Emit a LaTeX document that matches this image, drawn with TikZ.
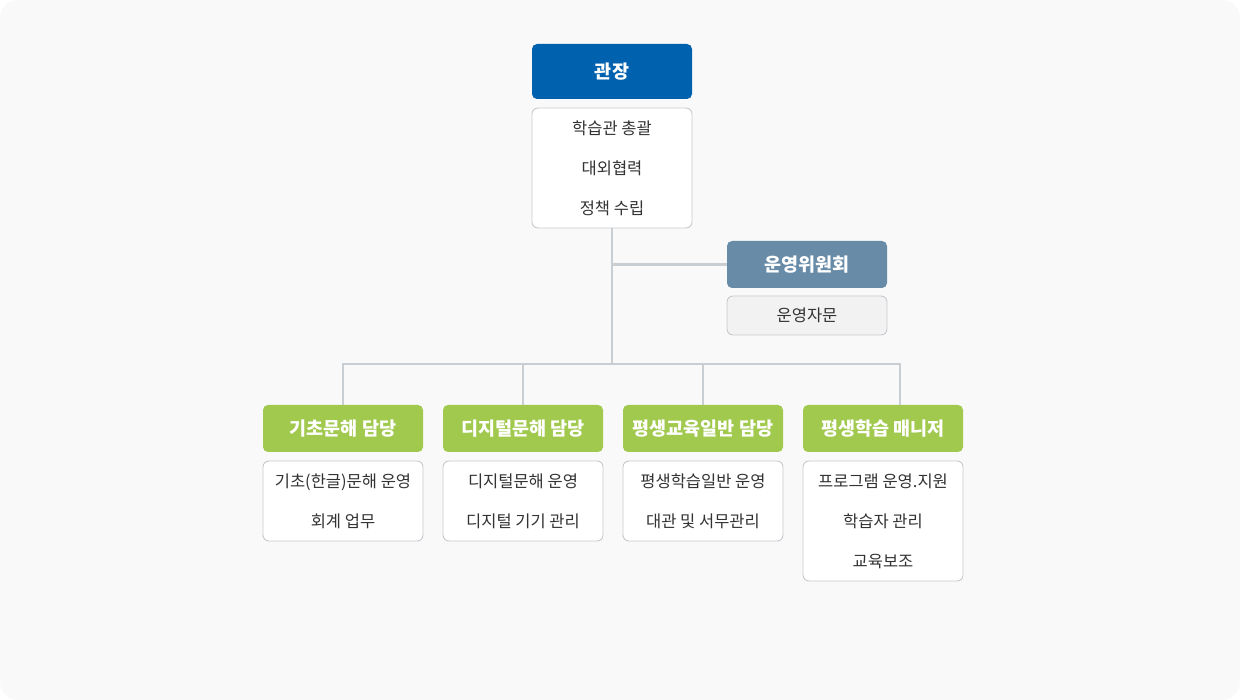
\documentclass[tikz,border=0pt]{standalone}
\usepackage{fontspec}
\setmainfont{Noto Sans CJK KR}
\usepackage{xcolor}
\usepackage{tikz}
\usetikzlibrary{positioning,calc}

\definecolor{bgcol}{HTML}{F9F9F9}
\definecolor{headblue}{HTML}{0061AF}
\definecolor{headgray}{HTML}{688BA8}
\definecolor{headgreen}{HTML}{A0C94E}
\definecolor{linecol}{HTML}{C9CED3}
\definecolor{boxline}{HTML}{C6CACF}
\definecolor{textcol}{HTML}{333333}

\begin{document}
\begin{tikzpicture}[x=1pt, y=-1pt,
    head/.style={rounded corners=5pt, minimum width=160pt, minimum height=47pt, inner sep=0pt, text=white, font=\fontsize{18.5}{22}\selectfont\bfseries},
    duty/.style={draw=boxline, line width=0.9pt, fill=white, rounded corners=6pt, minimum width=160pt, inner sep=0pt, align=center, text=textcol, font=\fontsize{16.5}{40}\selectfont},
    link/.style={draw=linecol, line width=2.5pt}]
    \useasboundingbox (0,0) rectangle (1240,700);
    \fill[bgcol, rounded corners=18pt] (0,0) rectangle (1240,700);

    \node[head, fill=headblue, minimum height=55pt] (chief) at (612,71.5) {관장};
    \node[duty, minimum height=120pt] (chiefDuty) at (612,168) {학습관 총괄\\대외협력\\정책 수립};

    \node[head, fill=headgray] (board) at (807,264.5) {운영위원회};
    \node[duty, fill=black!5, minimum height=39pt] (boardDuty) at (807,315.5) {운영자문};

    \node[head, fill=headgreen] (basic) at (343,428.5) {기초문해 담당};
    \node[head, fill=headgreen] (digital) at (523,428.5) {디지털문해 담당};
    \node[head, fill=headgreen] (general) at (703,428.5) {평생교육일반 담당};
    \node[head, fill=headgreen] (manager) at (883,428.5) {평생학습 매니저};

    \node[duty, minimum height=80pt] (basicDuty) at (343,501) {기초(한글)문해 운영\\회계 업무};
    \node[duty, minimum height=80pt] (digitalDuty) at (523,501) {디지털문해 운영\\디지털 기기 관리};
    \node[duty, minimum height=80pt] (generalDuty) at (703,501) {평생학습일반 운영\\대관 및 서무관리};
    \node[duty, minimum height=120pt] (managerDuty) at (883,521) {프로그램 운영.지원\\학습자 관리\\교육보조};

    \coordinate (bus) at (612,364);
    \coordinate (managerTop) at (900,405);

    \draw[link] (chiefDuty.south) -- (bus);
    \draw[link] (chiefDuty.south |- board.west) -- (board.west);
    \draw[link] (basic.north) |- (bus);
    \draw[link] (digital.north) |- (bus);
    \draw[link] (general.north) |- (bus);
    \draw[link] (managerTop) |- (bus);
\end{tikzpicture}
\end{document}
